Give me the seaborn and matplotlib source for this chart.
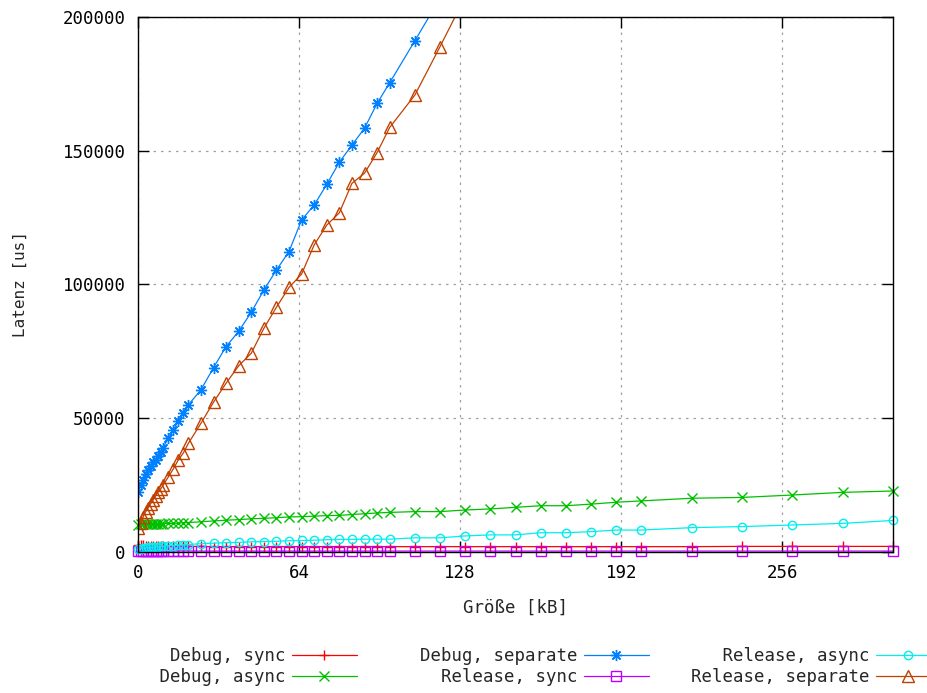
import matplotlib
matplotlib.use("Agg")
import matplotlib.pyplot as plt
import seaborn as sns
import pandas as pd

# Groesse in kB (gemeinsame x-Werte aller Messreihen)
size_kb = [0, 1, 2, 3, 4, 5, 6, 7, 8, 9, 10, 12, 14, 16, 18, 20,
           25, 30, 35, 40, 45, 50, 55, 60, 65, 70, 75, 80, 85, 90, 95, 100,
           110, 120, 130, 140, 150, 160, 170, 180, 190, 200,
           220, 240, 260, 280, 300]

# Latenz in us
debug_sync = [2600, 2500, 2500, 2400, 2400, 2400, 2300, 2300, 2300, 2300, 2200, 2200, 2200, 2200, 2100, 2100,
              2100, 2000, 2000, 2000, 2000, 2000, 2000, 2000, 2000, 2000, 2000, 2000, 2000, 2000, 2000, 2000,
              2000, 2000, 2000, 2000, 2000, 2000, 2000, 2000, 2000, 2000,
              2000, 2100, 2100, 2100, 2100]
debug_async = [10200, 10300, 10300, 10400, 10400, 10500, 10500, 10500, 10600, 10600, 10600, 10700, 10700, 10800, 10900, 11000,
               11300, 11600, 11900, 12100, 12400, 12600, 12800, 13100, 13200, 13400, 13600, 13700, 14000, 14300, 14600, 14800,
               15100, 15100, 15700, 16100, 16700, 17300, 17300, 17900, 18600, 19100,
               20100, 20400, 21300, 22300, 22800]
debug_separate = [22500, 25000, 27000, 29000, 30500, 32000, 33500, 34500, 36000, 37500, 39000, 42500, 45500, 49000, 52000, 55000,
                  60600, 68900, 76800, 82500, 89600, 97900, 105400, 112300, 124100, 129700, 137400, 145700, 152100, 158400, 167700, 175400,
                  191100, 207000]
release_sync = [500, 450, 450, 400, 400, 400, 400, 400, 400, 400, 400, 400, 400, 400, 400, 400,
                350, 350, 350, 350, 350, 350, 350, 350, 350, 350, 350, 350, 350, 350, 350, 350,
                350, 350, 350, 350, 350, 350, 350, 350, 350, 350,
                350, 350, 350, 350, 350]
release_async = [1100, 1300, 1400, 1500, 1700, 1700, 1800, 2000, 2000, 2100, 2200, 2400, 2400, 2600, 2700, 2800,
                 3100, 3300, 3500, 3600, 3800, 3900, 4000, 4200, 4300, 4400, 4600, 4700, 4700, 4800, 4800, 4800,
                 5300, 5300, 6000, 6400, 6400, 7200, 7200, 7600, 8200, 8200,
                 9100, 9500, 10100, 10700, 11800]
release_separate = [9000, 11000, 13000, 15000, 16500, 18000, 19500, 21000, 22500, 23500, 25000, 28000, 31000, 34400, 37000, 40600,
                    48100, 56000, 63100, 69600, 74300, 83600, 91500, 98900, 103900, 114800, 122200, 126800, 137800, 141600, 149300, 158700,
                    170800, 188900, 207500]

labels = ["Debug, sync", "Debug, async", "Debug, separate",
          "Release, sync", "Release, async", "Release, separate"]
values = [debug_sync, debug_async, debug_separate,
          release_sync, release_async, release_separate]
colors = ["#ff0000", "#00c000", "#0080ff", "#c000ff", "#00eeee", "#c04000"]
markers = ["+", "x", (8, 2, 0), "s", "o", "^"]
msizes = [7, 7, 8, 6.5, 6, 8.5]

sns.set_theme(style="ticks")
plt.rcParams["font.family"] = ["DejaVu Sans Mono", "DejaVu Sans"]
FS = 12.5

fig = plt.figure(figsize=(9.27, 6.93), dpi=100)
ax = fig.add_axes([138 / 927, 1 - 552 / 693, (893 - 138) / 927, (552 - 17) / 693])

for lab, ys, col, mk, ms in zip(labels, values, colors, markers, msizes):
    df = pd.DataFrame({"size": size_kb[:len(ys)], "lat": ys})
    clip = max(ys) > 200000
    sns.lineplot(data=df, x="size", y="lat", ax=ax, color=col, marker=mk,
                 markersize=ms, markeredgewidth=1, markeredgecolor=col,
                 markerfacecolor="none", linewidth=0.9, errorbar=None,
                 legend=False, clip_on=clip)

ax.set_xlim(0, 300)
ax.set_ylim(0, 200000)
ax.set_xticks([0, 64, 128, 192, 256])
ax.set_yticks([0, 50000, 100000, 150000, 200000])
ax.grid(True, color="#a0a0a0", linestyle=(0, (2, 4)), linewidth=0.9)
ax.tick_params(direction="in", length=8, width=1, top=True, right=True,
               labelsize=FS, pad=9, colors="black")
for sp in ax.spines.values():
    sp.set_color("black")
    sp.set_linewidth(1)

ax.set_xlabel("Größe [kB]", fontsize=FS)
ax.set_ylabel("Latenz [us]", fontsize=11.5)
ax.xaxis.set_label_coords(0.5, -0.088)
ax.yaxis.set_label_coords(-0.146, 0.5)

handles = ax.get_lines()[:len(labels)]
padded = [l.rjust(17) for l in labels]
fig.legend(handles, padded, ncol=3, loc="upper left",
           bbox_to_anchor=(0.1158, 1 - 647 / 693), frameon=False,
           markerfirst=False, handlelength=3.74, handletextpad=0.35,
           columnspacing=2.44, labelspacing=0.17, borderpad=0,
           borderaxespad=0, fontsize=FS)

fig.savefig("out.png", dpi=100)
